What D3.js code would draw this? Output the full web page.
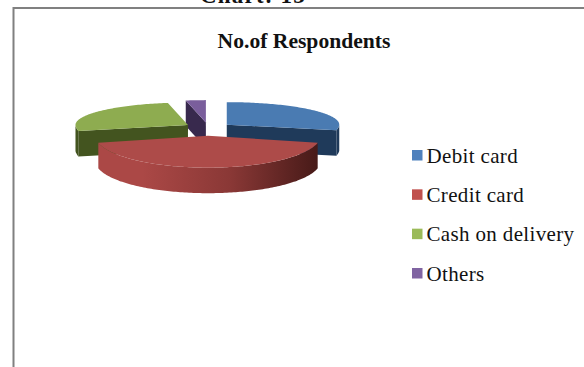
<!DOCTYPE html>
<html>
<head>
<meta charset="utf-8">
<script src="https://cdn.jsdelivr.net/npm/d3@7"></script>
<style>
  html, body { margin: 0; padding: 0; background: #fff; }
  svg { display: block; }
  text { font-family: "Liberation Serif", serif; fill: #111; }
</style>
</head>
<body>
<svg id="chart" width="584" height="367"></svg>
<script>
const categories = ["Debit card", "Credit card", "Cash on delivery", "Others"];
const respondents = [20, 30, 18, 2];
const topColors = ["#4a7bb2", "#ad4b49", "#8eac50", "#7a5e9c"];
const cutColors = ["#1f3a5a", "#5a2220", "#43541f", "#38294d"];
const legendColors = ["#4f81bd", "#c0504d", "#9bbb59", "#8064a2"];
const chartTitle = "No.of Respondents";
const captionText = "Chart: 13";

const svg = d3.select("#chart");

// Outer curved wall of the front slice darkens towards the right
const grad = svg.append("defs").append("linearGradient")
  .attr("id", "frontWall").attr("x1", "0").attr("x2", "1").attr("y1", "0").attr("y2", "0");
grad.append("stop").attr("offset", "0.2").attr("stop-color", "#ab4846");
grad.append("stop").attr("offset", "0.6").attr("stop-color", "#8a3836");
grad.append("stop").attr("offset", "1").attr("stop-color", "#471a18");

// Chart frame, cut off by the page on the right and bottom
const frame = d3.path();
frame.moveTo(13.5, 367);
frame.lineTo(13.5, 8);
frame.lineTo(584, 8);
svg.append("path").attr("d", frame.toString())
  .attr("fill", "none").attr("stroke", "#808080").attr("stroke-width", 2);

// Caption of the surrounding page, mostly above the top edge
svg.append("text").attr("x", 253).attr("y", 3).attr("text-anchor", "middle")
  .attr("font-size", 23).attr("letter-spacing", 1.2).attr("font-weight", "bold").text(captionText);

svg.append("text").attr("x", 304).attr("y", 48).attr("text-anchor", "middle")
  .attr("font-size", 21.6).attr("font-weight", "bold").text(chartTitle);

// Exploded pie tilted back, with a foreshortened far half
const pie = d3.pie().value(d => d).sort(null);
const arcs = pie(respondents);

const cx = 208, cy = 128;
const rx = 112.5, ryFar = 22.5, ryNear = 32;
const explodeX = 24 / rx, explodeU = 0.24, wall = 25.5;

const depthToY = u => cy - u * (u > 0 ? ryFar : ryNear);

function project(a, r, arc) {
  const mid = (arc.startAngle + arc.endAngle) / 2;
  const px = explodeX * Math.sin(mid) + r * Math.sin(a);
  const pu = explodeU * Math.cos(mid) + r * Math.cos(a);
  return [cx + rx * px, depthToY(pu)];
}

const line = d3.line();
const sweep = (arc, from, to) => {
  const n = Math.max(2, Math.ceil(Math.abs(to - from) / 0.02));
  return d3.range(n + 1).map(i => from + (to - from) * i / n);
};
const lift = pts => pts.map(([x, y]) => [x, y + wall]);

function topFace(arc) {
  const rim = sweep(arc, arc.startAngle, arc.endAngle).map(a => project(a, 1, arc));
  return line([project(0, 0, arc), ...rim]) + "Z";
}
function cutFace(arc, angle) {
  const pts = [project(angle, 0, arc), project(angle, 1, arc)];
  return line([...pts, ...lift(pts).reverse()]) + "Z";
}
function outerWall(arc) {
  const rim = sweep(arc, arc.startAngle, arc.endAngle)
    .filter(a => Math.cos(a) < 0.02)
    .map(a => project(a, 1, arc));
  return rim.length > 1 ? line([...rim, ...lift(rim).reverse()]) + "Z" : null;
}

// Back slices first so that the front slice overlaps their walls
const pie3d = svg.append("g");
[3, 2, 0, 1].forEach(i => {
  const arc = arcs[i];
  const g = pie3d.append("g");
  const cutAngles = i === 0 ? [arc.endAngle] : i === 2 ? [arc.startAngle] : i === 3 ? [arc.startAngle] : [];
  cutAngles.forEach(a => g.append("path").attr("d", cutFace(arc, a)).attr("fill", cutColors[i]));
  const w = outerWall(arc);
  if (w) g.append("path").attr("d", w).attr("fill", i === 1 ? "url(#frontWall)" : cutColors[i]);
  g.append("path").attr("d", topFace(arc)).attr("fill", topColors[i]);
});

// Legend
const legendY = d3.scalePoint().domain(categories).range([155.5, 273.5]);
const legend = svg.append("g").selectAll("g").data(categories).join("g")
  .attr("transform", d => `translate(412,${legendY(d)})`);
legend.append("rect").attr("x", 0).attr("y", -5.5).attr("width", 10.5).attr("height", 10.5)
  .attr("fill", (d, i) => legendColors[i]);
legend.append("text").attr("x", 14.5).attr("y", 7).attr("font-size", 21)
  .attr("letter-spacing", 0.35).text(d => d);
</script>
</body>
</html>
